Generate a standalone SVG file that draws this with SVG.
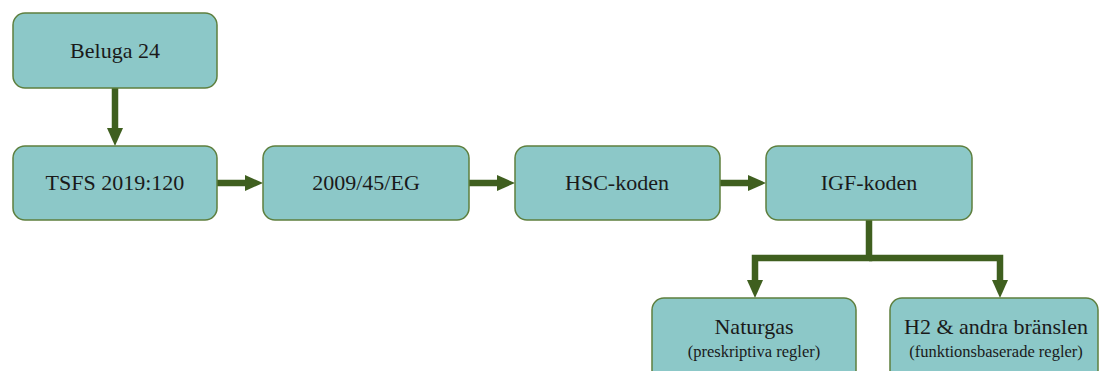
<svg xmlns="http://www.w3.org/2000/svg" width="1099" height="371" viewBox="0 0 1099 371">
<defs>
<style>
.box{fill:#8CC8C8;stroke:#5E7F3E;stroke-width:1.5}
.t{font-family:"Liberation Serif",serif;font-size:22px;fill:#1a1a1a;text-anchor:middle}
.s{font-family:"Liberation Serif",serif;font-size:16.5px;fill:#1a1a1a;text-anchor:middle}
.c{fill:none;stroke:#3F5F1F;stroke-width:6.5}
.h{fill:#3F5F1F}
</style>
</defs>
<rect width="1099" height="371" fill="#ffffff"/>
<g id="connectors">
<line class="c" x1="115" y1="88" x2="115" y2="129"/>
<polygon class="h" points="107,128 123,128 115,146"/>
<line class="c" x1="217" y1="183" x2="246" y2="183"/>
<polygon class="h" points="245,175 245,191 263,183"/>
<line class="c" x1="469" y1="183" x2="498" y2="183"/>
<polygon class="h" points="497,175 497,191 515,183"/>
<line class="c" x1="720" y1="183" x2="749" y2="183"/>
<polygon class="h" points="748,175 748,191 766,183"/>
<polyline class="c" points="869,220 869,258 755,258 755,282"/>
<polyline class="c" points="869,258 1000,258 1000,282"/>
<polygon class="h" points="747,280 763,280 755,298"/>
<polygon class="h" points="992,280 1008,280 1000,298"/>
</g>
<g id="beluga"><rect class="box" x="13" y="13" width="204" height="75" rx="12"/><text class="t" x="115" y="58">Beluga 24</text></g>
<g id="tsfs"><rect class="box" x="13" y="146" width="204" height="74" rx="12"/><text class="t" x="115" y="190">TSFS 2019:120</text></g>
<g id="eg"><rect class="box" x="263" y="146" width="206" height="74" rx="12"/><text class="t" x="366" y="190">2009/45/EG</text></g>
<g id="hsc"><rect class="box" x="515" y="146" width="205" height="74" rx="12"/><text class="t" x="617" y="190">HSC-koden</text></g>
<g id="igf"><rect class="box" x="766" y="146" width="206" height="74" rx="12"/><text class="t" x="869" y="190">IGF-koden</text></g>
<g id="naturgas"><rect class="box" x="652" y="298" width="204" height="90" rx="12"/><text class="t" x="754" y="334">Naturgas</text><text class="s" x="754" y="357">(preskriptiva regler)</text></g>
<g id="h2"><rect class="box" x="890" y="298" width="208" height="90" rx="12"/><text class="t" x="996" y="334">H2 &amp; andra bränslen</text><text class="s" x="996" y="357">(funktionsbaserade regler)</text></g>
</svg>
